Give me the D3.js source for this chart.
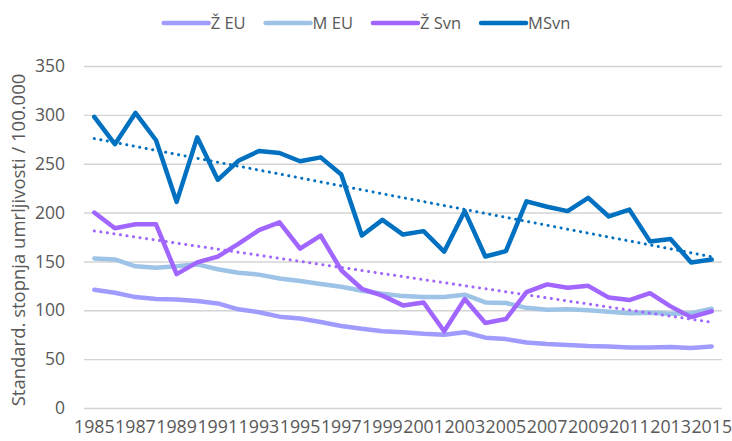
<!DOCTYPE html>
<html>
<head>
<meta charset="utf-8">
<script src="https://cdn.jsdelivr.net/npm/d3@7"></script>
<style>
  body { margin: 0; background: #fff; }
  text { font-family: "Open Sans", sans-serif; fill: #595959; }
</style>
</head>
<body>
<div id="chart"></div>
<script>
// data
var years = d3.range(1985, 2016);
var zEU = [121, 118, 113.5, 111.5, 111, 109.5, 107, 101, 98, 93.5, 91.5, 88, 84, 81, 78.5, 77.5,
  76, 75, 77.5, 72, 70.5, 67, 65.5, 64.5, 63.5, 63, 62, 62, 62.5, 61.5, 63];
var mEU = [153, 152, 145, 143.5, 145, 147, 142, 138.5, 136.5, 132.5, 130, 127, 124, 120, 117, 114.5,
  113.5, 113.5, 116, 108, 107.5, 102.5, 100.5, 101, 100, 98.5, 97, 97.5, 96.5, 97, 101.5];
var zSvn = [200, 184, 188, 188, 137, 149, 155, 168, 182, 190, 163, 176.5, 141, 122, 115, 105,
  108, 78.5, 111.5, 87, 91, 118.5, 126.5, 123, 125, 113, 110.5, 117.5, 104, 93, 99];
var mSvn = [298, 270, 302, 274, 211, 277, 233.5, 253, 263, 261, 252.5, 256.5, 239, 176.5, 192.5, 177.5,
  181, 160, 201.5, 155, 160.5, 211.5, 206, 201.5, 215, 196, 203, 170.5, 173, 149, 152];

var seriesNames = ["Ž EU", "M EU", "Ž Svn", "MSvn"];
var seriesColors = ["#a09cff", "#9dc3e6", "#a066ff", "#0070c0"];
var seriesValues = [zEU, mEU, zSvn, mSvn];
var trendFor = ["Ž Svn", "MSvn"];
var yTicks = [0, 50, 100, 150, 200, 250, 300, 350];

var svgWidth = 732, svgHeight = 441;
var margin = { top: 66, right: 10, bottom: 33, left: 84 };
var width = 722 - margin.left;
var height = 408 - margin.top;

var svg = d3.select("#chart").append("svg")
  .attr("width", svgWidth)
  .attr("height", svgHeight);

var chartGroup = svg.append("g")
  .attr("transform", `translate(${margin.left}, ${margin.top})`);

var xScale = d3.scaleBand().domain(years).range([0, width]);
var yScale = d3.scaleLinear().domain([0, 350]).range([height, 0]);
var xPos = d => xScale(d) + xScale.bandwidth() / 2;

// gridlines + y labels
var leftAxis = d3.axisLeft(yScale).tickValues(yTicks).tickSize(-width).tickPadding(19);
var yAxisG = chartGroup.append("g").call(leftAxis);
yAxisG.select(".domain").remove();
yAxisG.selectAll("line").attr("stroke", "#d4d4d4").attr("stroke-width", 1.4);
yAxisG.selectAll("text").style("font-size", "17.5px").attr("fill", "#595959");

// x labels, every second year
var bottomAxis = d3.axisBottom(xScale)
  .tickValues(years.filter((d, i) => i % 2 === 0))
  .tickSize(0).tickPadding(12);
var xAxisG = chartGroup.append("g")
  .attr("transform", `translate(0, ${height})`)
  .call(bottomAxis);
xAxisG.select(".domain").remove();
xAxisG.selectAll("text").style("font-size", "17.8px").attr("fill", "#595959");

// series lines
var line = d3.line()
  .x((d, i) => xPos(years[i]))
  .y(d => yScale(d));

seriesValues.forEach(function (vals, k) {
  chartGroup.append("path")
    .datum(vals)
    .attr("d", line)
    .attr("fill", "none")
    .attr("stroke", seriesColors[k])
    .attr("stroke-width", 4.5)
    .attr("stroke-linejoin", "round")
    .attr("stroke-linecap", "round");
});

// linear trendlines (least squares)
trendFor.forEach(function (name) {
  var k = seriesNames.indexOf(name);
  var vals = seriesValues[k];
  var n = vals.length;
  var mx = d3.mean(vals, (d, i) => i);
  var my = d3.mean(vals);
  var num = d3.sum(vals, (d, i) => (i - mx) * (d - my));
  var den = d3.sum(vals, (d, i) => (i - mx) * (i - mx));
  var slope = num / den, icpt = my - slope * mx;
  var trend = vals.map((d, i) => icpt + slope * i);
  chartGroup.append("path")
    .datum([trend[0], trend[n - 1]])
    .attr("d", d3.line().x((d, i) => xPos(years[i === 0 ? 0 : n - 1])).y(d => yScale(d)))
    .attr("fill", "none")
    .attr("stroke", seriesColors[k])
    .attr("stroke-width", 3)
    .attr("stroke-linecap", "round")
    .attr("stroke-dasharray", "0.1 6.5");
});

// y title
svg.append("text")
  .attr("transform", `translate(25, ${(66 + 408) / 2 + 3}) rotate(-90)`)
  .attr("text-anchor", "middle")
  .style("font-size", "18.5px")
  .text("Standard. stopnja umrljivosti / 100.000");

// legend
var legend = svg.append("g");
var lx = 0;
seriesNames.forEach(function (name, k) {
  var g = legend.append("g").attr("transform", `translate(${lx}, 0)`);
  g.append("line")
    .attr("x1", 0).attr("x2", 45)
    .attr("y1", 0).attr("y2", 0)
    .attr("stroke", seriesColors[k])
    .attr("stroke-width", 4.5)
    .attr("stroke-linecap", "round");
  var t = g.append("text")
    .attr("x", 47).attr("y", 6)
    .style("font-size", "16.5px")
    .text(name);
  lx += 47 + t.node().getComputedTextLength() + 20;
});
var legendW = lx - 20;
legend.attr("transform", `translate(${367 - legendW / 2}, 23)`);
</script>
</body>
</html>
